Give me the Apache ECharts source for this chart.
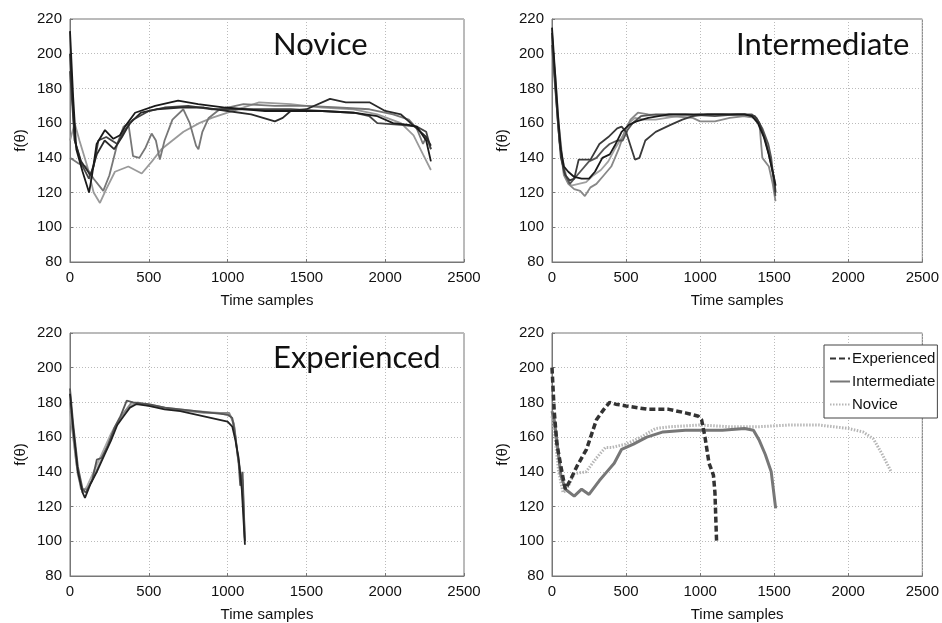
<!DOCTYPE html>
<html>
<head>
<meta charset="utf-8">
<script src="https://cdn.jsdelivr.net/npm/echarts@6/dist/echarts.min.js"></script>
<style>
  html, body { margin: 0; padding: 0; background: #fff; }
</style>
</head>
<body>
<div id="chart" style="width: 942px; height: 623px;"></div>
<script>
// x ticks and y ticks shared by all four panels
const xTicks = [0, 500, 1000, 1500, 2000, 2500];
const yTicks = [80, 100, 120, 140, 160, 180, 200, 220];
const panelTitles = ['Novice', 'Intermediate', 'Experienced'];
const legendNames = ['Experienced', 'Intermediate', 'Novice'];

// Novice trials [time sample, f(theta)]
const novice1 = [[0,213],[20,175],[40,145],[80,132],[121,120],[140,130],[169,148],[222,156],[275,151],[317,153],[349,158],[413,166],[540,170],[686,173],[813,171],[984,169],[1238,167],[1400,167],[1600,167],[1800,166],[1950,164],[2050,160],[2150,159],[2200,158],[2260,150],[2290,138]];
const novice2 = [[0,200],[30,150],[70,138],[130,130],[170,142],[220,150],[280,145],[330,152],[380,160],[450,166],[550,168],[700,169],[850,169],[1000,167],[1150,165],[1300,161],[1350,163],[1400,167],[1500,168],[1650,174],[1750,172],[1900,172],[2000,167],[2100,165],[2200,157],[2260,152],[2290,147]];
const novice3 = [[0,140],[50,137],[100,135],[150,128],[211,121],[250,130],[300,148],[340,158],[370,160],[400,141],[440,140],[480,146],[518,154],[545,150],[570,139],[600,150],[650,162],[719,168],[760,160],[800,147],[815,145],[840,155],[880,163],[950,168],[1100,171],[1300,170],[1500,170],[1700,169],[1900,168],[2050,165],[2150,162],[2200,157],[2240,148],[2260,152],[2290,145]];
const novice4 = [[0,150],[30,160],[60,150],[110,135],[150,120],[190,114],[230,122],[285,132],[370,135],[455,131],[520,138],[580,145],[650,150],[720,155],[820,160],[900,163],[1000,166],[1200,172],[1400,171],[1600,169],[1800,168],[1950,165],[2100,160],[2180,153],[2240,142],[2290,133]];
const novice5 = [[0,190],[30,150],[70,137],[120,128],[150,135],[180,150],[230,152],[300,148],[340,155],[400,162],[500,167],[600,169],[750,170],[900,168],[1000,168],[1200,168],[1400,168],[1600,167],[1800,166],[1900,164],[1950,160],[2100,159],[2200,158],[2260,155],[2290,145]];

// Intermediate trials
const inter1 = [[0,215],[20,190],[40,165],[60,145],[80,135],[110,132],[150,129],[200,128],[250,128],[290,132],[340,140],[390,142],[430,148],[470,155],[520,159],[570,161],[650,163],[790,165],[900,165],[1000,165],[1100,165],[1200,165],[1300,165],[1350,164],[1390,160],[1430,152],[1460,143],[1490,132],[1510,124]];
const inter2 = [[0,212],[20,185],[40,160],[60,140],[90,130],[120,127],[150,128],[180,139],[260,139],[320,148],[380,152],[440,157],[470,158],[500,155],[530,147],[560,139],[590,140],[630,150],[700,155],[800,159],[880,162],[950,164],[1050,165],[1200,165],[1300,165],[1370,164],[1400,160],[1440,150],[1470,140],[1500,128],[1510,120]];
const inter3 = [[0,210],[25,180],[50,150],[80,130],[110,125],[150,122],[190,121],[222,118],[260,123],[300,125],[350,130],[400,135],[450,145],[490,155],[530,162],[580,166],[650,165],[800,164],[950,163],[1000,161],[1100,161],[1200,163],[1300,164],[1380,163],[1400,160],[1420,140],[1464,135],[1490,125],[1509,115]];
const inter4 = [[0,205],[20,182],[50,150],[80,132],[120,125],[170,130],[250,138],[300,140],[350,145],[389,148],[440,150],[478,150],[510,156],[544,160],[600,164],[700,165],[900,165],[1100,164],[1250,165],[1350,165],[1380,163],[1420,157],[1460,148],[1480,140],[1500,125],[1508,118]];
const inter5 = [[0,208],[25,185],[45,160],[70,140],[100,128],[130,124],[180,125],[230,126],[280,130],[330,133],[380,138],[430,146],[480,153],[520,160],[560,163],[620,162],[700,162],[850,164],[1000,165],[1150,165],[1300,164],[1370,163],[1410,158],[1450,148],[1480,136],[1505,122]];

// Experienced trials
const exp1 = [[0,185],[20,165],[50,140],[80,128],[95,125],[130,133],[170,140],[220,150],[260,158],[300,167],[340,172],[380,177],[420,179],[500,178],[600,176],[700,175],[800,173],[900,171],[1000,169],[1030,166],[1050,158],[1070,148],[1090,130],[1110,98]];
const exp2 = [[0,188],[20,168],[50,143],[80,130],[100,128],[140,135],[170,147],[200,148],[240,155],[280,165],[320,172],[360,181],[400,180],[500,179],[600,177],[700,176],[800,175],[900,174],[1000,173],[1030,171],[1050,160],[1070,145],[1080,132],[1095,140],[1110,100]];
const exp3 = [[0,180],[15,165],[40,145],[70,130],[110,130],[150,137],[200,147],[250,158],[300,168],[350,175],[390,180],[450,179],[550,178],[650,176],[750,175],[850,174],[950,174],[1010,174],[1040,168],[1060,152],[1080,140],[1095,135],[1110,100]];
const exp4 = [[0,175],[20,160],[50,138],[80,128],[110,132],[150,140],[200,150],[260,162],[320,172],[380,178],[430,180],[500,178],[600,177],[800,175],[950,174],[1020,172],[1045,165],[1065,148],[1085,138],[1100,120],[1108,102]];

// group means
const meanExperienced = [[0,200],[15,175],[33,156],[67,140],[90,130],[100,129],[122,135],[167,143],[233,153],[300,170],[350,176],[389,180],[430,179],[500,178],[650,176],[789,176],[900,174],[989,172],[1010,170],[1033,160],[1060,145],[1078,141],[1090,138],[1100,128],[1111,100]];
const meanIntermediate = [[0,175],[15,170],[30,160],[60,138],[90,130],[150,126],[200,130],[250,127],[320,135],[370,140],[420,145],[470,153],[550,156],[640,160],[750,163],[900,164],[1000,164],[1150,164],[1300,165],[1360,164],[1400,158],[1440,150],[1480,140],[1510,119]];
const meanNovice = [[0,172],[20,160],[45,140],[75,128],[100,130],[150,139],[230,140],[300,148],[360,154],[400,154],[500,156],[600,160],[700,165],[800,166],[1000,167],[1200,166],[1400,166],[1600,167],[1800,167],[2000,165],[2100,163],[2170,159],[2230,150],[2290,140]];

const chart = echarts.init(document.getElementById('chart'));

const grids = [
  { left: 70, top: 19, width: 394, height: 243 },
  { left: 552, top: 19, width: 375, height: 243 },
  { left: 70, top: 333, width: 394, height: 243 },
  { left: 552, top: 333, width: 375, height: 243 }
];

const font = 'Liberation Sans';

function xAxisFor(i) {
  return {
    gridIndex: i, type: 'value', min: xTicks[0], max: xTicks[xTicks.length - 1], interval: 500,
    name: 'Time samples', nameLocation: 'middle', nameGap: 31,
    nameTextStyle: { color: '#111', fontSize: 15, fontFamily: font },
    axisLine: { show: true, lineStyle: { color: '#777' } },
    axisTick: { inside: true, length: 3, lineStyle: { color: '#777' } },
    axisLabel: { color: '#111', fontSize: 15, fontFamily: font, margin: 8, formatter: v => String(v) },
    splitLine: { show: true, lineStyle: { color: '#bbb', type: [1, 2] } }
  };
}
function yAxisFor(i) {
  return {
    gridIndex: i, type: 'value', min: yTicks[0], max: yTicks[yTicks.length - 1], interval: 20,
    name: 'f(θ)', nameLocation: 'middle', nameGap: 42, nameRotate: 90,
    nameTextStyle: { color: '#111', fontSize: 15, fontFamily: font },
    axisLine: { show: true, lineStyle: { color: '#777' } },
    axisTick: { inside: true, length: 3, lineStyle: { color: '#777' } },
    axisLabel: { color: '#111', fontSize: 15, fontFamily: font, margin: 8, formatter: v => String(v) },
    splitLine: { show: true, lineStyle: { color: '#bbb', type: [1, 2] } }
  };
}

function trial(data, idx, color) {
  return {
    type: 'line', xAxisIndex: idx, yAxisIndex: idx, data: data,
    symbol: 'none', silent: true,
    lineStyle: { color: color, width: 1.8 }
  };
}

function mean(name, data, color, width, dash) {
  return {
    name: name, type: 'line', xAxisIndex: 3, yAxisIndex: 3, data: data,
    symbol: 'none', itemStyle: { color: color },
    lineStyle: { color: color, width: width, type: dash }
  };
}

const series = [
  trial(novice4, 0, '#9a9a9a'),
  trial(novice3, 0, '#777'),
  trial(novice5, 0, '#444'),
  trial(novice2, 0, '#2a2a2a'),
  trial(novice1, 0, '#1a1a1a'),
  trial(inter5, 1, '#a0a0a0'),
  trial(inter3, 1, '#888'),
  trial(inter4, 1, '#555'),
  trial(inter2, 1, '#3a3a3a'),
  trial(inter1, 1, '#1a1a1a'),
  trial(exp4, 2, '#aaa'),
  trial(exp3, 2, '#888'),
  trial(exp2, 2, '#555'),
  trial(exp1, 2, '#222'),
  mean('Novice', meanNovice, '#b5b5b5', 3, [1.5, 1.5]),
  mean('Intermediate', meanIntermediate, '#777', 3, 'solid'),
  mean('Experienced', meanExperienced, '#333', 3.5, [6, 3])
];

const option = {
  backgroundColor: '#fff',
  animation: false,
  title: [
    { text: panelTitles[0], left: 268, top: 24 },
    { text: panelTitles[1], left: 731, top: 24 },
    { text: panelTitles[2], left: 268, top: 337 }
  ].map(t => Object.assign(t, {
    textStyle: { fontFamily: 'Lato', fontWeight: 'normal', fontSize: 31, color: '#111' }
  })),
  grid: grids.map(g => Object.assign({ show: true, borderColor: '#777', borderWidth: 1, backgroundColor: '#fff' }, g)),
  xAxis: [0, 1, 2, 3].map(xAxisFor),
  yAxis: [0, 1, 2, 3].map(yAxisFor),
  legend: {
    data: legendNames, orient: 'vertical', left: 824, top: 345,
    itemWidth: 20, itemHeight: 10, itemGap: 8, padding: [6, 2, 6, 5],
    backgroundColor: '#fff', borderColor: '#444', borderWidth: 1,
    itemStyle: { opacity: 0 },
    textStyle: { fontSize: 15, fontFamily: font, color: '#111', padding: [0, 0, 0, -3] }
  },
  series: series
};

chart.setOption(option);
window.addEventListener('resize', chart.resize);
</script>
</body>
</html>
